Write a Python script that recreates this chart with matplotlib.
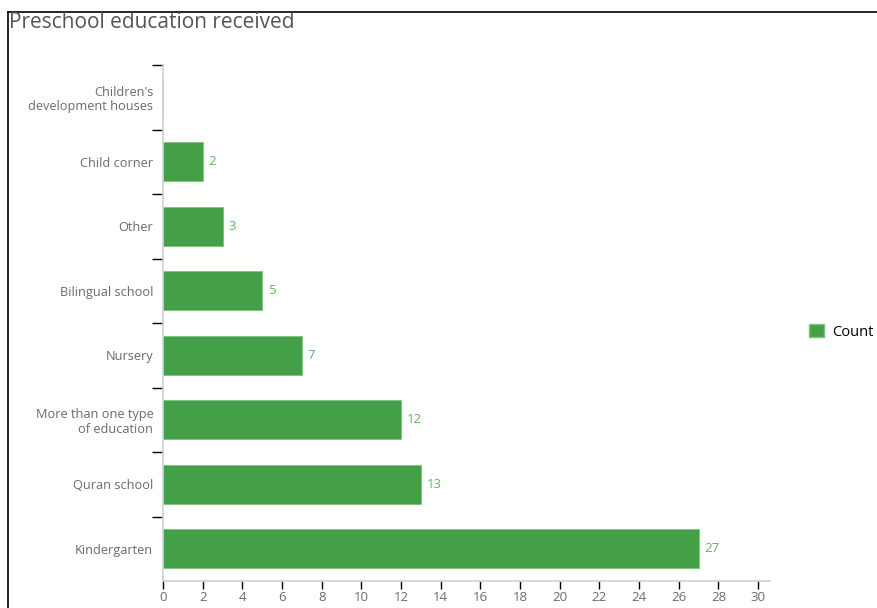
import matplotlib
matplotlib.use("Agg")
import matplotlib.pyplot as plt
from matplotlib.lines import Line2D
from matplotlib.patches import Patch

categories = ["Kindergarten", "Quran school", "More than one type\nof education",
              "Nursery", "Bilingual school", "Other", "Child corner",
              "Children's\ndevelopment houses"]
counts = [27, 13, 12, 7, 5, 3, 2, 0]
xticks = list(range(0, 31, 2))

bar_color = "#43a047"
label_color = "#5cb85c"
text_gray = "#6a6a6a"

plt.rcParams["font.family"] = ["Open Sans", "DejaVu Sans"]

W, H = 877, 608
fig = plt.figure(figsize=(W / 100, H / 100), dpi=100)
ax = fig.add_axes([163 / W, 1 - 581 / H, (770 - 163) / W, (581 - 65) / H])

ypos = list(range(len(categories)))
ax.barh(ypos, counts, height=0.61, color=bar_color, edgecolor="#7cc47f", linewidth=0.6)
for y, v in zip(ypos, counts):
    if v > 0:
        ax.text(v + 0.3, y, str(v), va="center", ha="left", fontsize=9.5, color=label_color)

ax.set_xlim(0, 30.6)
ax.set_ylim(-0.5, len(categories) - 0.5)
ax.set_xticks(xticks)
ax.set_xticklabels([str(t) for t in xticks], fontsize=9.5, color=text_gray)
ax.set_yticks(ypos)
ax.set_yticklabels(categories, fontsize=9.2, color=text_gray, linespacing=1.15)
# category separators as minor ticks between bands
ax.set_yticks([y + 0.5 for y in ypos], minor=True)
ax.tick_params(axis="y", which="major", length=0, pad=7)
ax.tick_params(axis="y", which="minor", length=8, width=1, color="black")
ax.tick_params(axis="x", which="major", length=6, width=1, color="black", direction="out", pad=1)

for side in ["top", "right"]:
    ax.spines[side].set_visible(False)
for side in ["left", "bottom"]:
    ax.spines[side].set_color("#d0d0d0")
    ax.spines[side].set_linewidth(1.2)

fig.text(9 / W, 1 - 23 / H, "Preschool education received", fontsize=15, color="#555555",
         ha="left", va="center")

fig.legend(handles=[Patch(facecolor=bar_color, edgecolor="#7cc47f", label="Count")],
           loc="center left", bbox_to_anchor=(796 / W, 1 - 332 / H), frameon=False,
           fontsize=10.5, handlelength=1.0, handleheight=1.0, handletextpad=0.6)

# frame lines at the top and left of the figure
fig.add_artist(Line2D([8 / W, 1], [1 - 12 / H, 1 - 12 / H], color="black", lw=1.2))
fig.add_artist(Line2D([8 / W, 8 / W], [0, 1 - 12 / H], color="black", lw=1.2))

fig.savefig("out.png", dpi=100)
